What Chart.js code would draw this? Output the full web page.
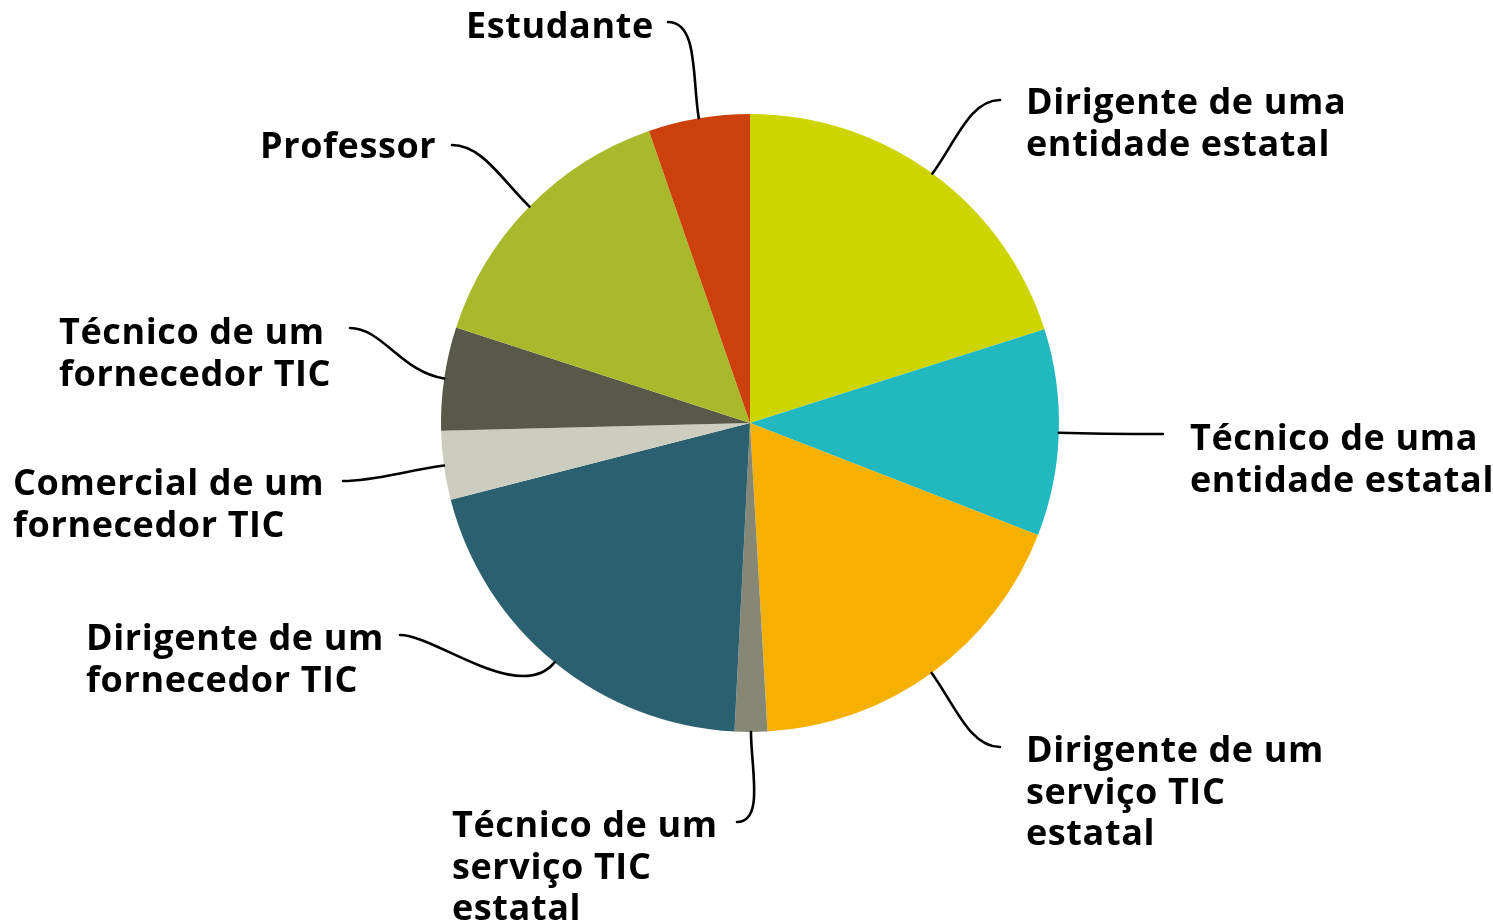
<!DOCTYPE html>
<html lang="pt">
<head>
    <meta charset="UTF-8">
    <title>Perfil dos respondentes</title>
    <script src="https://cdn.jsdelivr.net/npm/chart.js"></script>
    <style>
        body {
            margin: 0;
            background: #ffffff;
        }

        #wrap {
            width: 1493px;
            height: 923px;
            position: relative;
        }
    </style>
</head>
<body>
    <div id="wrap">
        <canvas id="pieChart"></canvas>
    </div>

    <script>
        // data (share of respondents, %)
        const categories = [
            ['Dirigente de uma', 'entidade estatal'],
            ['Técnico de uma', 'entidade estatal'],
            ['Dirigente de um', 'serviço TIC', 'estatal'],
            ['Técnico de um', 'serviço TIC', 'estatal'],
            ['Dirigente de um', 'fornecedor TIC'],
            ['Comercial de um', 'fornecedor TIC'],
            ['Técnico de um', 'fornecedor TIC'],
            ['Professor'],
            ['Estudante']
        ];
        const shares = [20.1, 10.8, 18.2, 1.7, 20.2, 3.6, 5.4, 14.7, 5.3];
        const sliceColors = [
            '#CED400', '#22B8C0', '#F5B000', '#878775', '#2B6070',
            '#CDCDBF', '#595949', '#A8BA2C', '#CC410B'
        ];

        // label placement relative to the pie centre (px)
        // tx,ty: left edge / middle of first line ; ex,ey: end of the leader line
        const labelLayout = [
            { tx: 276,  ty: -319, ex: 250,  ey: -323 },
            { tx: 440,  ty: 17,   ex: 413,  ey: 11 },
            { tx: 276,  ty: 329,  ex: 250,  ey: 324 },
            { tx: -298, ty: 404,  ex: -13,  ey: 399 },
            { tx: -664, ty: 217,  ex: -350, ey: 212 },
            { tx: -737, ty: 62,   ex: -407, ey: 58 },
            { tx: -691, ty: -89,  ex: -400, ey: -95 },
            { tx: -490, ty: -275, ex: -298, ey: -278 },
            { tx: -284, ty: -395, ex: -82,  ey: -401 }
        ];
        const lineHeight = 41.5;

        const leaderPlugin = {
            id: 'leaders',
            afterDraw(chart) {
                const ctx = chart.ctx;
                const arcs = chart.getDatasetMeta(0).data;
                ctx.save();
                ctx.strokeStyle = '#000000';
                ctx.lineWidth = 2.6;
                ctx.lineCap = 'round';
                ctx.fillStyle = '#000000';
                ctx.font = 'bold 36px "Open Sans", sans-serif';
                ctx.letterSpacing = '0.6px';
                ctx.textBaseline = 'middle';
                ctx.textAlign = 'left';

                arcs.forEach((arc, i) => {
                    const p = arc.getProps(['x', 'y', 'startAngle', 'endAngle', 'outerRadius'], true);
                    const mid = (p.startAngle + p.endAngle) / 2;
                    const dx = Math.cos(mid), dy = Math.sin(mid);
                    const sx = p.x + dx * p.outerRadius;
                    const sy = p.y + dy * p.outerRadius;
                    const lay = labelLayout[i];
                    const ex = p.x + lay.ex, ey = p.y + lay.ey;
                    const side = lay.ex > 0 && lay.tx > lay.ex ? -1 : 1;
                    const dist = Math.hypot(ex - sx, ey - sy);
                    const k1 = Math.min(55, dist * 0.4);
                    const k2 = Math.min(35, dist * 0.3);

                    ctx.beginPath();
                    ctx.moveTo(sx, sy);
                    ctx.bezierCurveTo(sx + dx * k1, sy + dy * k1, ex + side * k2, ey, ex, ey);
                    ctx.stroke();

                    categories[i].forEach((line, j) => {
                        ctx.fillText(line, p.x + lay.tx, p.y + lay.ty + j * lineHeight);
                    });
                });
                ctx.restore();
            }
        };

        const chart = new Chart(document.getElementById('pieChart'), {
            type: 'pie',
            data: {
                labels: categories.map(c => c.join(' ')),
                datasets: [{
                    data: shares,
                    backgroundColor: sliceColors,
                    borderWidth: 0,
                    hoverOffset: 0
                }]
            },
            options: {
                responsive: true,
                maintainAspectRatio: false,
                animation: false,
                layout: {
                    padding: { left: 7, right: 0, top: 114, bottom: 191 }
                },
                plugins: {
                    legend: { display: false },
                    tooltip: { enabled: false }
                }
            },
            plugins: [leaderPlugin]
        });
    </script>
</body>
</html>
